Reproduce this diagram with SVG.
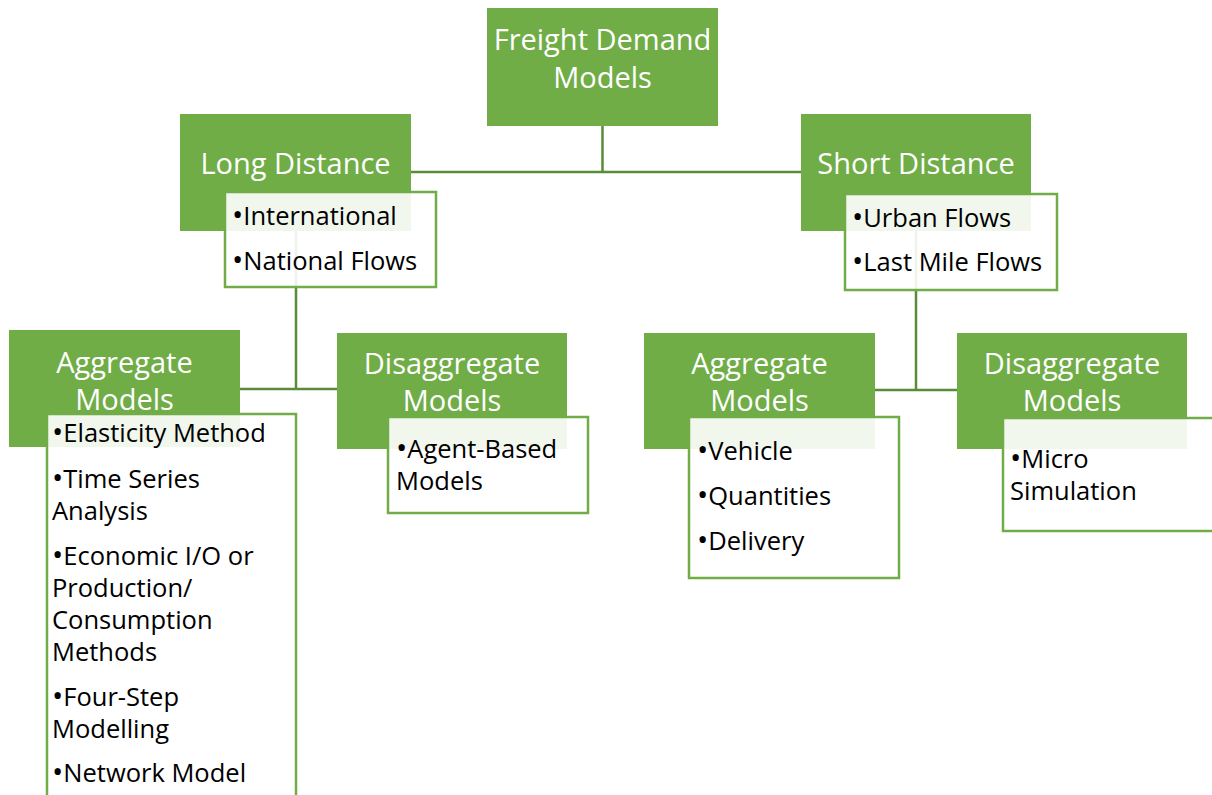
<svg xmlns="http://www.w3.org/2000/svg" width="1212" height="795" viewBox="0 0 1212 795">
  <style>
    .head { fill: #70AD47; }
    .list { fill: #FFFFFF; fill-opacity: 0.9; stroke: #70AD47; stroke-width: 2.5; }
    .link { fill: none; stroke: #588C38; stroke-width: 2.5; }
    .ht { font-family: "Open Sans", "Liberation Sans", sans-serif; font-size: 29px; fill: #FFFFFF; text-anchor: middle; }
    .it { font-family: "Open Sans", "Liberation Sans", sans-serif; font-size: 25.5px; fill: #000000; }
    .b { font-size: 30px; }
  </style>
  <rect width="1212" height="795" fill="#FFFFFF"/>

  <!-- connectors -->
  <g id="connectors">
    <path class="link" d="M602.5,126 V172 M411,172 H801"/>
    <path class="link" d="M296,231 V389 M240,389 H337"/>
    <path class="link" d="M916,231 V390 M875,390 H957"/>
  </g>

  <!-- root -->
  <g id="freight-demand-models">
    <rect class="head" x="487" y="8" width="231" height="118"/>
    <text class="ht" x="602.5" y="50">Freight Demand</text>
    <text class="ht" x="602.5" y="88">Models</text>
  </g>

  <!-- long distance branch -->
  <g id="long-distance">
    <rect class="head" x="180" y="114" width="231" height="117"/>
    <text class="ht" x="295.5" y="174">Long Distance</text>
    <rect class="list" x="225" y="192" width="211" height="95"/>
    <text class="it" x="232" y="225"><tspan class="b">•</tspan>International</text>
    <text class="it" x="232" y="270"><tspan class="b">•</tspan>National Flows</text>
  </g>

  <!-- short distance branch -->
  <g id="short-distance">
    <rect class="head" x="801" y="114" width="230" height="117"/>
    <text class="ht" x="916" y="174">Short Distance</text>
    <rect class="list" x="845" y="194" width="212" height="96"/>
    <text class="it" x="852" y="227"><tspan class="b">•</tspan>Urban Flows</text>
    <text class="it" x="852" y="271"><tspan class="b">•</tspan>Last Mile Flows</text>
  </g>

  <g id="long-aggregate">
    <rect class="head" x="9" y="330" width="231" height="117"/>
    <text class="ht" x="124.5" y="373">Aggregate</text>
    <text class="ht" x="124.5" y="410">Models</text>
    <rect class="list" x="47" y="414" width="249" height="400"/>
    <text class="it" x="52" y="442"><tspan class="b">•</tspan>Elasticity Method</text>
    <text class="it" x="52" y="488"><tspan class="b">•</tspan>Time Series</text>
    <text class="it" x="52" y="520">Analysis</text>
    <text class="it" x="52" y="565"><tspan class="b">•</tspan>Economic I/O or</text>
    <text class="it" x="52" y="597">Production/</text>
    <text class="it" x="52" y="629">Consumption</text>
    <text class="it" x="52" y="661">Methods</text>
    <text class="it" x="52" y="706"><tspan class="b">•</tspan>Four-Step</text>
    <text class="it" x="52" y="738">Modelling</text>
    <text class="it" x="52" y="782"><tspan class="b">•</tspan>Network Model</text>
  </g>

  <g id="long-disaggregate">
    <rect class="head" x="337" y="333" width="230" height="116"/>
    <text class="ht" x="452" y="374">Disaggregate</text>
    <text class="ht" x="452" y="411">Models</text>
    <rect class="list" x="388" y="417" width="200" height="96"/>
    <text class="it" x="396" y="458"><tspan class="b">•</tspan>Agent-Based</text>
    <text class="it" x="396" y="490">Models</text>
  </g>

  <g id="short-aggregate">
    <rect class="head" x="644" y="333" width="231" height="116"/>
    <text class="ht" x="759.5" y="374">Aggregate</text>
    <text class="ht" x="759.5" y="411">Models</text>
    <rect class="list" x="689" y="417" width="210" height="161"/>
    <text class="it" x="697" y="460"><tspan class="b">•</tspan>Vehicle</text>
    <text class="it" x="697" y="505"><tspan class="b">•</tspan>Quantities</text>
    <text class="it" x="697" y="550"><tspan class="b">•</tspan>Delivery</text>
  </g>

  <g id="short-disaggregate">
    <rect class="head" x="957" y="333" width="230" height="116"/>
    <text class="ht" x="1072" y="374">Disaggregate</text>
    <text class="ht" x="1072" y="411">Models</text>
    <rect class="list" x="1003" y="418" width="230" height="113"/>
    <text class="it" x="1010" y="468"><tspan class="b">•</tspan>Micro</text>
    <text class="it" x="1010" y="500">Simulation</text>
  </g>
</svg>
